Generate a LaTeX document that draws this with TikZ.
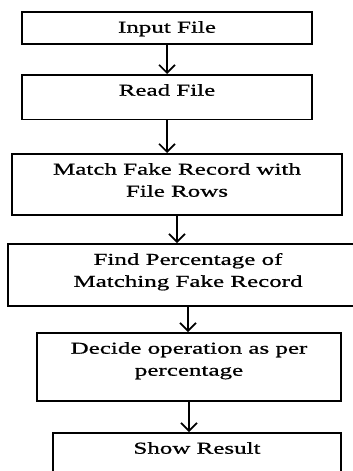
\documentclass[tikz,border=0pt]{standalone}
\usepackage{fontspec}
\newfontfamily\boxfont[FakeStretch=1.5,FakeBold=0.8]{Liberation Serif}
\usetikzlibrary{arrows.meta}

\begin{document}
\begin{tikzpicture}[x=0.75pt, y=-0.75pt, line width=1.2pt,
  main/.style = {draw, anchor=north, align=center, inner ysep=7pt,
    font=\boxfont\fontsize{12.5}{16.5}\selectfont}]
            \useasboundingbox (0,0) rectangle (353,471);
            \node[main, minimum width=217.5pt, text depth=1.5pt] (1) at (167,11) {Input File};
            \node[main, minimum width=217.5pt, text depth=11pt] (2) at (167,74) {Read File};
            \node[main, minimum width=247.5pt, text depth=6.6pt] (3) at (177,153) {Match Fake Record with\\File Rows};
            \node[main, minimum width=270pt, text depth=7.4pt] (4) at (188,243) {Find Percentage of\\Matching Fake Record};
            \node[main, minimum width=228pt, text depth=11.9pt] (5) at (189,332) {Decide operation as per\\percentage};
            \node[main, minimum width=216pt, text depth=15pt] (6) at (197,432) {Show Result};
            \path[-{Straight Barb[length=6pt,width=12pt]},draw]
            (1) edge (1 |- 2.north)
            (2) edge (2 |- 3.north)
            (3) edge (3 |- 4.north)
            (4) edge (4 |- 5.north)
            (5) edge (5 |- 6.north);
        \end{tikzpicture}
\end{document}
